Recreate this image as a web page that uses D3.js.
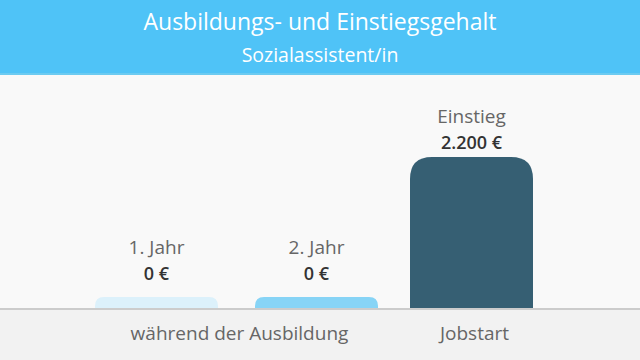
<!DOCTYPE html>
<html><head><meta charset="utf-8">
<script src="https://cdn.jsdelivr.net/npm/d3@7"></script>
<style>html,body{margin:0;padding:0;background:#f9f9f9;}svg{display:block;font-family:"Open Sans","Noto Sans",sans-serif;}</style>
</head><body>
<svg id="c" width="640" height="360"></svg>
<script>
const title = "Ausbildungs- und Einstiegsgehalt";
const subtitle = "Sozialassistent/in";
const categories = ["1. Jahr", "2. Jahr", "Einstieg"];
const values = [0, 0, 2200];
const valueLabels = ["0 €", "0 €", "2.200 €"];
const barColors = ["#dcf1fb", "#87d4f6", "#365f73"];
const groups = [{label: "während der Ausbildung", from: 0, to: 1}, {label: "Jobstart", from: 2, to: 2}];

const svg = d3.select("#c");
const W = 640, H = 360, baseY = 309, topY = 157, minH = 12;

svg.append("rect").attr("width", W).attr("height", H).attr("fill", "#f9f9f9");
svg.append("rect").attr("width", W).attr("height", 75).attr("fill", "#4fc3f7");
svg.append("rect").attr("y", 73).attr("width", W).attr("height", 2).attr("fill", "#6ccbf1");
svg.append("text").attr("x", 320).attr("y", 30).attr("text-anchor", "middle").attr("fill", "#fff").attr("font-size", 23).text(title);
svg.append("text").attr("x", 320).attr("y", 62).attr("text-anchor", "middle").attr("fill", "#fff").attr("font-size", 19.5).text(subtitle);

svg.append("rect").attr("y", baseY).attr("width", W).attr("height", H - baseY).attr("fill", "#f2f2f2");

const x = d3.scaleOrdinal().domain(categories).range([95, 255, 410]);
const bw = 123;
const y = d3.scaleLinear().domain([0, d3.max(values)]).range([baseY, topY]);

function topRounded(x0, y0, w, h, r) {
  r = Math.min(r, h, w / 2);
  return `M${x0},${y0 + h}V${y0 + r}Q${x0},${y0} ${x0 + r},${y0}H${x0 + w - r}Q${x0 + w},${y0} ${x0 + w},${y0 + r}V${y0 + h}Z`;
}

categories.forEach((c, i) => {
  const h = Math.max(minH, baseY - y(values[i]));
  const r = values[i] > 0 ? 22 : 9;
  svg.append("path").attr("d", topRounded(x(c), baseY - h, bw, h, r)).attr("fill", barColors[i]);
  const cx = x(c) + bw / 2;
  const lh = Math.max(h, 21);
  svg.append("text").attr("x", cx).attr("y", baseY - lh - 34).attr("text-anchor", "middle").attr("fill", "#666").attr("font-size", 19).text(c);
  svg.append("text").attr("x", cx).attr("y", baseY - lh - 8).attr("text-anchor", "middle").attr("fill", "#333").attr("font-size", 18).attr("font-weight", 600).text(valueLabels[i]);
});

svg.append("rect").attr("y", baseY - 1).attr("width", W).attr("height", 2).attr("fill", "#cccccc");

groups.forEach(g => {
  const x0 = x(categories[g.from]), x1 = x(categories[g.to]) + bw;
  svg.append("text").attr("x", (x0 + x1) / 2 + 3).attr("y", 340).attr("text-anchor", "middle").attr("fill", "#666").attr("font-size", 19).text(g.label);
});
</script>
</body></html>
